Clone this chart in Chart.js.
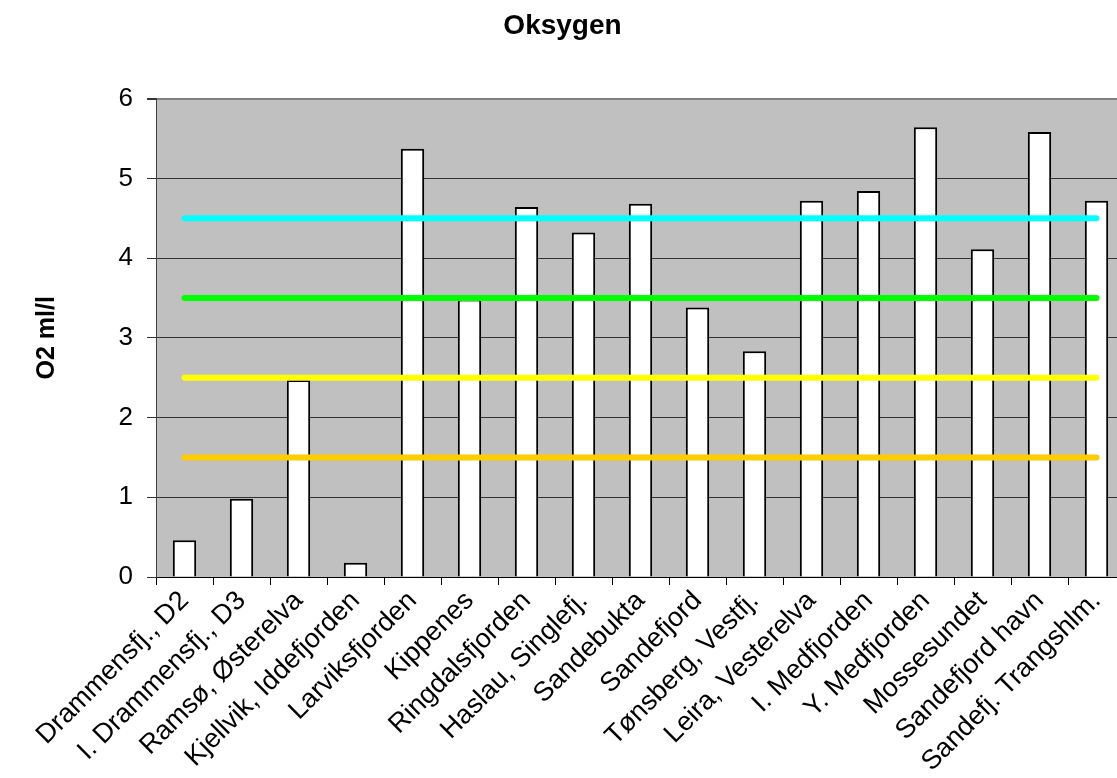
<!DOCTYPE html>
<html>
<head>
<meta charset="utf-8">
<script src="https://cdn.jsdelivr.net/npm/chart.js@4.4.0/dist/chart.umd.min.js"></script>
<style>
    html, body { margin: 0; padding: 0; background: #fff; overflow: hidden; }
    #wrap { width: 1117px; height: 778px; overflow: hidden; }
</style>
</head>
<body>
<div id="wrap"><canvas id="myChart" width="1146" height="778"></canvas></div>
<script>
// stations along the coast
var stations = ["Drammensfj., D2", "I. Drammensfj., D3", "Ramsø, Østerelva", "Kjellvik, Iddefjorden",
    "Larviksfjorden", "Kippenes", "Ringdalsfjorden", "Haslau, Singlefj.", "Sandebukta", "Sandefjord",
    "Tønsberg, Vestfj.", "Leira, Vesterelva", "I. Medfjorden", "Y. Medfjorden", "Mossesundet",
    "Sandefjord havn", "Sandefj. Trangshlm."];

// O2 ml/l
var oxygen = [0.46, 0.98, 2.47, 0.18, 5.37, 3.48, 4.64, 4.32, 4.68, 3.38, 2.83, 4.72, 4.84, 5.64, 4.11, 5.58, 4.72];

// limit lines
var limitCyan = [4.5, 4.5, 4.5, 4.5, 4.5, 4.5, 4.5, 4.5, 4.5, 4.5, 4.5, 4.5, 4.5, 4.5, 4.5, 4.5, 4.5];
var limitGreen = [3.5, 3.5, 3.5, 3.5, 3.5, 3.5, 3.5, 3.5, 3.5, 3.5, 3.5, 3.5, 3.5, 3.5, 3.5, 3.5, 3.5];
var limitYellow = [2.5, 2.5, 2.5, 2.5, 2.5, 2.5, 2.5, 2.5, 2.5, 2.5, 2.5, 2.5, 2.5, 2.5, 2.5, 2.5, 2.5];
var limitOrange = [1.5, 1.5, 1.5, 1.5, 1.5, 1.5, 1.5, 1.5, 1.5, 1.5, 1.5, 1.5, 1.5, 1.5, 1.5, 1.5, 1.5];

var yTicks = [0, 1, 2, 3, 4, 5, 6];

var fontName = "'Liberation Sans', Arial, sans-serif";

// grey plot area
var plotBackground = {
    id: 'plotBackground',
    beforeDraw: function (chart) {
        var a = chart.chartArea;
        var ctx = chart.ctx;
        ctx.save();
        ctx.fillStyle = '#c0c0c0';
        ctx.fillRect(a.left, a.top, a.right - a.left, a.bottom - a.top);
        ctx.restore();
    }
};

function limitLine(data, color) {
    return {
        type: 'line',
        data: data,
        borderColor: color,
        borderWidth: 6,
        borderCapStyle: 'round',
        pointRadius: 0,
        fill: false,
        order: 1
    };
}

const ctx = document.getElementById('myChart');

new Chart(ctx, {
    type: 'bar',
    data: {
        labels: stations,
        datasets: [
            limitLine(limitCyan, '#00ffff'),
            limitLine(limitGreen, '#00ff00'),
            limitLine(limitYellow, '#ffff00'),
            limitLine(limitOrange, '#ffcc00'),
            {
                type: 'bar',
                data: oxygen,
                backgroundColor: '#ffffff',
                borderColor: '#000000',
                borderWidth: 2,
                barPercentage: 0.41,
                categoryPercentage: 1,
                order: 2
            }
        ]
    },
    options: {
        responsive: false,
        animation: false,
        layout: { padding: { left: 0, right: 21, top: 0, bottom: 0 } },
        plugins: {
            legend: { display: false },
            tooltip: { enabled: false },
            title: {
                display: true,
                text: 'Oksygen',
                color: '#000',
                font: { family: fontName, size: 28, weight: 'bold' },
                padding: { top: 9, bottom: 56 }
            }
        },
        scales: {
            x: {
                offset: true,
                grid: { drawOnChartArea: false, drawTicks: true, tickLength: 8, color: '#000', offset: true },
                border: { color: '#000', width: 1 },
                ticks: {
                    autoSkip: false, maxRotation: 45, minRotation: 45, padding: 0,
                    color: '#000', font: { family: fontName, size: 27 }
                },
                afterFit: function (scale) { scale.height = 201; }
            },
            y: {
                min: 0,
                max: 6,
                afterBuildTicks: function (scale) {
                    scale.ticks = yTicks.map(function (v) { return { value: v }; });
                },
                grid: {
                    color: function (c) { return c.tick && c.tick.value === 6 ? '#808080' : '#333333'; },
                    lineWidth: function (c) { return c.tick && c.tick.value === 6 ? 2 : 1; },
                    tickColor: '#333333',
                    tickLength: 9
                },
                border: { color: '#404040', width: 1 },
                ticks: { padding: 14, color: '#000', font: { family: fontName, size: 26 } },
                title: {
                    display: true,
                    text: 'O2 ml/l',
                    color: '#000',
                    font: { family: fontName, size: 25, weight: 'bold' },
                    padding: { top: 32, bottom: 0 }
                },
                afterFit: function (scale) { scale.width = 156; }
            }
        }
    },
    plugins: [plotBackground]
});
</script>
</body>
</html>
